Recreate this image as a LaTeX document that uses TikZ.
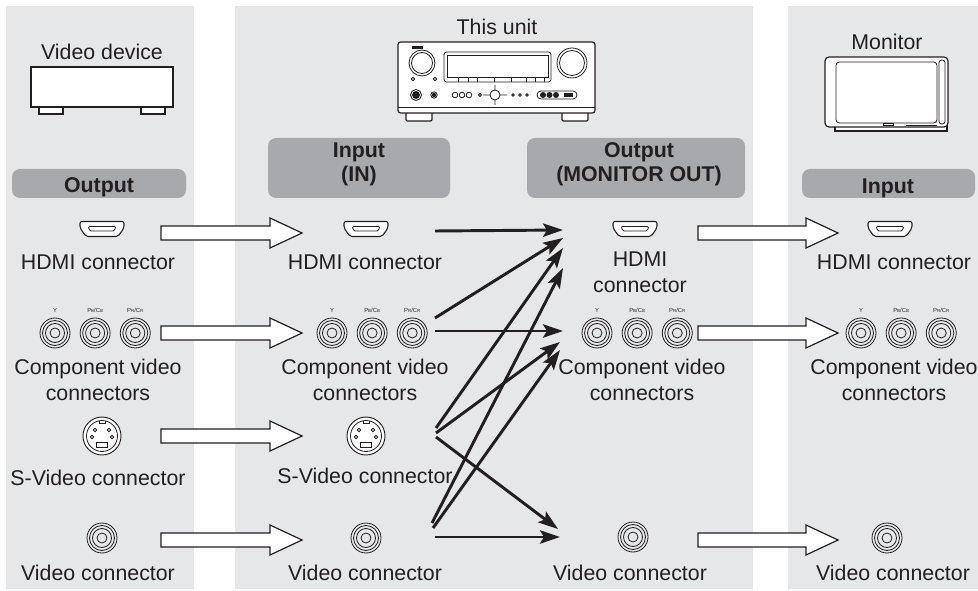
\documentclass[tikz,border=0pt]{standalone}
\usepackage{fontspec}
\setmainfont{Liberation Sans}
\usetikzlibrary{
	positioning,
	arrows.meta,
	calc}

\definecolor{panelgray}{RGB}{230,231,232}
\definecolor{headgray}{RGB}{167,169,172}
\definecolor{ink}{RGB}{35,31,32}

\newcommand{\sm}[1]{{\fontsize{3.3}{4}\selectfont #1}}
\newcommand{\blockarr}[2]{%
	\draw[block arrow] ($(#1)+(0,-7)$) -- ($(#2)+(-32,-7)$) -- ($(#2)+(-32,-15)$)
		-- (#2) -- ($(#2)+(-32,15)$) -- ($(#2)+(-32,7)$) -- ($(#1)+(0,7)$) -- cycle;}

\tikzset{
	header/.style={fill=headgray, rounded corners=6pt},
	lbl/.style={
		font=\fontsize{16}{19.5}\selectfont,
		text=ink,
		align=center,
		anchor=base,
		inner sep=0pt
	},
	head lbl/.style={lbl, font=\bfseries\fontsize{16}{18}\selectfont},
	tiny lbl/.style={
		font=\fontsize{4.4}{5}\selectfont,
		text=ink,
		anchor=base,
		inner sep=0pt
	},
	icon line/.style={draw=ink, line width=.6pt},
	icon fill/.style={draw=ink, line width=.9pt, fill=white},
	block arrow/.style={draw=ink, line width=.9pt, fill=white},
	wire/.style={
		draw=ink,
		line width=2.2pt,
		-{Stealth[length=15pt, width=10pt, inset=3pt]}
	},
	rca/.style={
		circle,
		icon line,
		inner sep=0pt,
		minimum size=22.5pt,
		path picture={
			\foreach \r in {12.5,9.5,5}
				\draw[icon line] (path picture bounding box.center) circle[radius=\r];
		}
	},
	hdmi/.style={
		inner sep=0pt,
		minimum width=36pt,
		minimum height=13.5pt,
		path picture={
			\begin{scope}[shift={(path picture bounding box.center)}]
			\draw[icon fill, line width=.8pt, rounded corners=1.5pt]
				(-22,-7.5) -- (22,-7.5) -- (22,-1) -- (16,7.5) -- (-16,7.5) -- (-22,-1) -- cycle;
			\draw[icon line, rounded corners=1pt]
				(-14,-2.5) -- (14,-2.5) -- (12,2) -- (-12,2) -- cycle;
			\end{scope}
		}
	},
	svid/.style={
		circle,
		draw=ink,
		line width=.7pt,
		fill=white,
		inner sep=0pt,
		minimum size=28.5pt,
		path picture={
			\begin{scope}[shift={(path picture bounding box.center)}]
			\draw[icon line] (0,0) circle[radius=15.5];
			\draw[icon line] (-3,-15.3) -- (-3,-12.3) -- (3,-12.3) -- (3,-15.3);
			\foreach \p in {(-7,-6),(7,-6),(-10,1),(10,1)}
				\draw[icon line] \p circle[radius=1.8];
			\draw[icon line] (-5.5,6) rectangle (5.5,11.5);
			\end{scope}
		}
	},
}

\begin{document}
\begin{tikzpicture}[x=0.75pt, y=-0.75pt]
	\useasboundingbox (0,0) rectangle (978,591);
	\fill[panelgray] (6,6) rectangle (194,589);
	\fill[panelgray] (235,6) rectangle (753,589);
	\fill[panelgray] (788,6) rectangle (978,589);
	\fill[header] (12,169) rectangle (186,198);
	\fill[header] (268,138) rectangle (450,198);
	\fill[header] (527,138) rectangle (745,198);
	\fill[header] (802,169) rectangle (975,198);
%
	\node[lbl] (tDev)  at (102,60) {Video device};
	\node[lbl] (tUnit) at (497,35) {This unit};
	\node[lbl] (tMon)  at (887,50) {Monitor};
	\node[head lbl] (hDev) at (99,193)  {Output};
	\node[head lbl] (hIn)  at (359,182) {Input\\(IN)};
	\node[head lbl] (hOut) at (639,182) {Output\\(MONITOR OUT)};
	\node[head lbl] (hMon) at (888,194) {Input};
%
	% video device
	\draw[icon fill] (39,106) rectangle (63,114);
	\draw[icon fill] (141,106) rectangle (165,114);
	\draw[icon fill] (31,67) rectangle (173,107);
	% this unit
	\draw[icon fill, rounded corners=1pt] (406,110) rectangle (432,121);
	\draw[icon fill, rounded corners=1pt] (562,110) rectangle (588,121);
	\draw[icon fill, rounded corners=2pt] (398,42) rectangle (595,113);
	\draw[icon line] (398,107) -- (595,107);
	\fill[ink] (412,46) rectangle (423,49);
	\draw[icon line] (422,63) circle[radius=13] (422,63) circle[radius=10.5];
	\draw[icon line] (572,63) circle[radius=15] (572,63) circle[radius=12.5];
	\draw[icon line, rounded corners=2pt] (444,52) rectangle (551,82);
	\draw[icon line] (447,55) rectangle (548,77);
	\foreach \x in {458,468,477,494,511,526,535,544}
		\draw[icon line] (\x,77) -- (\x,82);
	\draw[icon line] (413,79) circle[radius=1.8] (435,79) circle[radius=1.8];
	\draw[icon line] (416,95) circle[radius=5.5];
	\fill[ink] (416,95) circle[radius=4];
	\draw[icon line] (434,95) circle[radius=3.2];
	\fill[ink] (434,95) circle[radius=2.2];
	\foreach \x in {455,462,469}
		\draw[icon line] (\x,95) circle[radius=2.8];
	\draw[icon line] (480,95) circle[radius=1.5];
	\draw[icon line] (495,95) circle[radius=5] (483,95) -- (490,95) (500,95) -- (507,95)
		(495,85) -- (495,90) (495,100) -- (495,105);
	\foreach \x in {513,520,527}
		\draw[icon line] (\x,95) circle[radius=1.3];
	\draw[icon line, rounded corners=3pt] (537,91) rectangle (577,99);
	\foreach \x in {543,549.5,556}
		\fill[ink] (\x,95) circle[radius=3];
	\fill[ink] (564,93) rectangle (573,97);
	% monitor
	\draw[icon fill] (835,125) rectangle (947,131);
	\draw[icon fill, rounded corners=3pt] (825,57) rectangle (948,127);
	\draw[icon line, rounded corners=2.5pt] (836,62) rectangle (937,123);
	\draw[icon line, rounded corners=2pt] (939,60) rectangle (945,124);
	\draw[icon line] (883,123) rectangle (893,125.5);
	\draw[icon line] (906,125.5) -- (937,125.5);
%
	\node[hdmi] (dHdmi) at (102,229) {};
	\node[hdmi] (iHdmi) at (366,229) {};
	\node[hdmi] (oHdmi) at (635,229) {};
	\node[hdmi] (mHdmi) at (890,229) {};
	\node[rca]  (dY)  at (55,333)  {};
	\node[rca, right=7pt of dY]  (dPb) {};
	\node[rca, right=7pt of dPb] (dPr) {};
	\node[rca]  (iY)  at (332,333) {};
	\node[rca, right=7pt of iY]  (iPb) {};
	\node[rca, right=7pt of iPb] (iPr) {};
	\node[rca]  (oY)  at (597,333) {};
	\node[rca, right=7pt of oY]  (oPb) {};
	\node[rca, right=7pt of oPb] (oPr) {};
	\node[rca]  (mY)  at (861,333) {};
	\node[rca, right=7pt of mY]  (mPb) {};
	\node[rca, right=7pt of mPb] (mPr) {};
	\foreach \c in {d,i,o,m} {
		\node[tiny lbl] (\c Yt)  at ([yshift=15pt]\c Y)  {Y};
		\node[tiny lbl] (\c Pbt) at ([yshift=15pt]\c Pb) {P\sm{B}/C\sm{B}};
		\node[tiny lbl] (\c Prt) at ([yshift=15pt]\c Pr) {P\sm{R}/C\sm{R}};
	}
	\node[svid] (dSv) at (102,436) {};
	\node[svid] (iSv) at (366,436) {};
	\node[rca] (dVid) at (102,538) {};
	\node[rca] (iVid) at (366,538) {};
	\node[rca] (oVid) at (633,537) {};
	\node[rca] (mVid) at (887,538) {};
%
	\node[lbl] (ldHdmi) at (98,270)  {HDMI connector};
	\node[lbl] (ldComp) at (98,401)  {Component video\\connectors};
	\node[lbl] (ldSv)   at (98,485)  {S-Video connector};
	\node[lbl] (ldVid)  at (98,580)  {Video connector};
	\node[lbl] (liHdmi) at (365,270) {HDMI connector};
	\node[lbl] (liComp) at (365,401) {Component video\\connectors};
	\node[lbl] (liSv)   at (365,483) {S-Video connector};
	\node[lbl] (liVid)  at (365,580) {Video connector};
	\node[lbl] (loHdmi) at (640,293) {HDMI\\connector};
	\node[lbl] (loComp) at (642,401) {Component video\\connectors};
	\node[lbl] (loVid)  at (630,580) {Video connector};
	\node[lbl] (lmHdmi) at (894,270) {HDMI connector};
	\node[lbl] (lmComp) at (894,401) {Component video\\connectors};
	\node[lbl] (lmVid)  at (893,580) {Video connector};
%
	\coordinate (bH0) at (161,233); \coordinate (bH1) at (302,233);
	\coordinate (bC0) at (161,333); \coordinate (bC1) at (302,333);
	\coordinate (bS0) at (161,436); \coordinate (bS1) at (302,436);
	\coordinate (bV0) at (161,540); \coordinate (bV1) at (302,540);
	\coordinate (cH0) at (698,233); \coordinate (cH1) at (838,233);
	\coordinate (cC0) at (698,333); \coordinate (cC1) at (838,333);
	\coordinate (cV0) at (698,540); \coordinate (cV1) at (838,540);
	\foreach \a in {bH,bC,bS,bV,cH,cC,cV}
		\blockarr{\a0}{\a1};
%
	\coordinate (tHdmi)  at (435,231);
	\coordinate (tComp1) at (435,318);
	\coordinate (tComp2) at (435,331);
	\coordinate (tSv1)   at (436,428);
	\coordinate (tSv2)   at (436,433);
	\coordinate (tSv3)   at (436,437);
	\coordinate (tVid1)  at (432,523);
	\coordinate (tVid2)  at (433,528);
	\coordinate (tVid3)  at (435,537);
	\coordinate (hHdmi1) at (563,230);
	\coordinate (hHdmi2) at (563,238);
	\coordinate (hHdmi3) at (563,248);
	\coordinate (hHdmi4) at (563,268);
	\coordinate (hComp1) at (563,331);
	\coordinate (hComp2) at (560,342);
	\coordinate (hComp3) at (560,350);
	\coordinate (hVid1)  at (558,529);
	\coordinate (hVid2)  at (560,537);
	\foreach \s/\t in {tHdmi/hHdmi1, tComp1/hHdmi2, tSv1/hHdmi3, tVid1/hHdmi4,
		tComp2/hComp1, tSv2/hComp2, tVid2/hComp3, tSv3/hVid1, tVid3/hVid2}
		\draw[wire] (\s) -- (\t);
\end{tikzpicture}
\end{document}
